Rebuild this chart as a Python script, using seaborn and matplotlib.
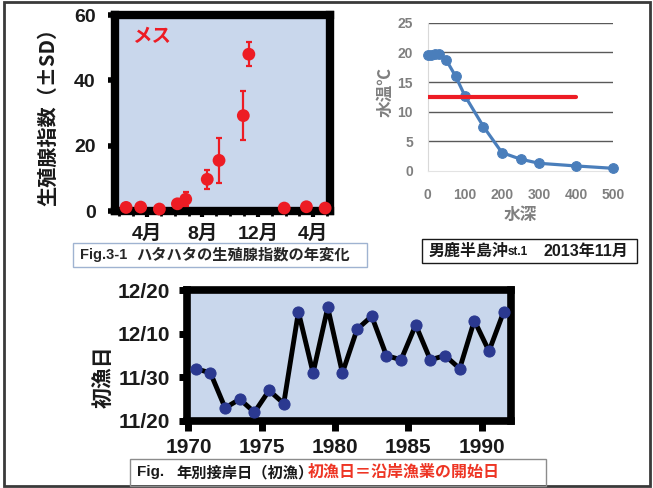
import numpy as np
import matplotlib
matplotlib.use("Agg")
import matplotlib.pyplot as plt
from matplotlib.patches import Rectangle
import seaborn as sns

# Fig.3-1 female GSI by month (months 13-17 = following year)
gsi_month = [2.5, 3.55, 4.9, 6.2, 6.8, 8.35, 9.2, 10.95, 11.35, 13.9, 15.5, 16.85]
gsi_mean = [1.1, 1.2, 0.6, 2.2, 3.6, 9.7, 15.5, 29.2, 48.0, 0.9, 1.3, 0.9]
gsi_sd = [0, 0, 0, 0.5, 2.2, 3.0, 7.0, 7.4, 3.6, 0, 0, 0]
gsi_ticks = [4, 8, 12, 16]
gsi_ticklabels = ["4月", "8月", "12月", "4月"]

# water temperature profile, Oga peninsula st.1, Nov 2013
depth = [0, 10, 20, 30, 50, 75, 100, 150, 200, 250, 300, 400, 500]
temp = [19.6, 19.6, 19.7, 19.8, 18.7, 16.0, 12.7, 7.5, 3.1, 2.0, 1.3, 0.85, 0.45]
ref_depth = [0, 400]
ref_temp = 12.5

# first fishing day by year
years = list(range(1970, 1992))
first_day = ["12/2", "12/1", "11/23", "11/25", "11/22", "11/27", "11/24", "12/15",
             "12/1", "12/16", "12/1", "12/11", "12/14", "12/5", "12/4", "12/12",
             "12/4", "12/5", "12/2", "12/13", "12/6", "12/15"]
day_ticklabels = ["11/20", "11/30", "12/10", "12/20"]


# days counted from 11/20
def to_days(s):
    m, d = map(int, s.split("/"))
    return d - 20 if m == 11 else d + 10


first_days = [to_days(s) for s in first_day]
day_ticks = [to_days(s) for s in day_ticklabels]

sns.set_style("white")
plt.rcParams["font.family"] = ["Liberation Sans", "Noto Sans CJK JP", "DejaVu Sans"]
plt.rcParams["font.weight"] = "bold"
cjk = ["Noto Sans CJK JP", "DejaVu Sans"]

W, H = 653, 488
red = "#ed1c24"
blue = "#4a7ebb"
navy = "#2b3990"
bg = "#c9d7ec"
gray = "#7f7f7f"

fig = plt.figure(figsize=(W / 100, H / 100), dpi=100)


def fx(x):
    return x / W


def fy(y):
    return 1 - y / H


def axes_px(x0, y0, x1, y1):
    return fig.add_axes([fx(x0), fy(y1), (x1 - x0) / W, (y1 - y0) / H])


def box_px(x0, y0, x1, y1, color, lw=1.0):
    fig.add_artist(Rectangle((fx(x0), fy(y1)), (x1 - x0) / W, (y1 - y0) / H,
                             transform=fig.transFigure, fill=False,
                             edgecolor=color, lw=lw))


# outer frame
box_px(4, 2, 650, 486, "#3a3a3a", lw=2)

# ---- GSI panel ----
ax1 = axes_px(115, 15, 330, 211)
ax1.set_facecolor(bg)
ax1.errorbar(gsi_month, gsi_mean, yerr=gsi_sd, fmt="none", ecolor=red,
             elinewidth=1.6, capsize=2.5, capthick=1.6, zorder=3)
sns.scatterplot(x=gsi_month, y=gsi_mean, ax=ax1, color=red, s=85,
                edgecolor="none", zorder=4, clip_on=False)
ax1.set_xlim(1.7, 17.2)
ax1.set_ylim(0, 60)
ax1.set_yticks([0, 20, 40, 60])
ax1.set_xticks(gsi_ticks)
ax1.set_xticklabels(gsi_ticklabels)
ax1.set_xticks(range(2, 18), minor=True)
for s in ax1.spines.values():
    s.set_linewidth(6)
    s.set_color("black")
ax1.tick_params(axis="y", left=True, length=5, width=4, pad=9,
                labelsize=14, color="black", labelcolor="#1a1a1a")
ax1.tick_params(axis="x", bottom=True, length=4, width=3, pad=6,
                labelsize=14, color="black", labelcolor="#1a1a1a")
ax1.tick_params(axis="x", which="minor", bottom=True, length=3.6, width=2,
                color="black")
ax1.text(0.08, 0.89, "メス", transform=ax1.transAxes, color=red,
         fontsize=14, fontweight="bold", va="center", family=cjk)
fig.text(fx(48), fy(112), "生殖腺指数（±SD）", rotation=90, ha="center",
         va="center", fontsize=14.5, fontweight="bold", family=cjk,
         color="#1a1a1a")

box_px(73, 243, 367, 267, "#9fb3d1")
fig.text(fx(80), fy(255), "Fig.3-1", fontsize=10.5, fontweight="bold",
         va="center", color="#262626")
fig.text(fx(136), fy(255), "ハタハタの生殖腺指数の年変化", fontsize=11,
         fontweight="bold", va="center", color="#262626", family=cjk)

# ---- temperature panel ----
ax2 = axes_px(427.7, 22.7, 613.3, 171)
sns.lineplot(x=depth, y=temp, ax=ax2, color=blue, lw=2.3, marker="o",
             markersize=7, markeredgecolor=blue, clip_on=False, zorder=3)
sns.lineplot(x=ref_depth, y=[ref_temp] * len(ref_depth), ax=ax2, color=red,
             lw=3, zorder=4)
ax2.set_xlim(0, 500)
ax2.set_ylim(0, 25)
ax2.set_xticks(range(0, 501, 100))
ax2.set_yticks(range(0, 26, 5))
ax2.grid(axis="y", color="#595959", lw=1)
ax2.yaxis.get_gridlines()[0].set_visible(False)
for k in ["top", "right"]:
    ax2.spines[k].set_visible(False)
ax2.spines["left"].set_color("#d9d9d9")
ax2.spines["bottom"].set_color("#e3e3e3")
ax2.tick_params(axis="both", length=0, labelsize=10, labelcolor=gray)
ax2.tick_params(axis="y", pad=10.5)
ax2.tick_params(axis="x", pad=12)
fig.text(fx(385), fy(92), "水温℃", rotation=90, ha="center", va="center",
         fontsize=12, fontweight="bold", color=gray, family=cjk)
fig.text(fx(520), fy(215), "水深", ha="center", va="center",
         fontsize=12, fontweight="bold", color=gray, family=cjk)

box_px(421.7, 239, 636.7, 263, "#1a1a1a")
fig.text(fx(429), fy(251), "男鹿半島沖", fontsize=11.5, fontweight="bold",
         va="center", color="#1a1a1a", family=cjk)
fig.text(fx(508), fy(252), "st.1", fontsize=8.5, fontweight="bold",
         va="center", color="#1a1a1a")
fig.text(fx(544), fy(251), "2013年11月", fontsize=11.5, fontweight="bold",
         va="center", color="#1a1a1a")

# ---- first fishing day panel ----
ax3 = axes_px(187, 290, 511, 421)
ax3.set_facecolor(bg)
year_pos = np.array(years) + 0.5
sns.lineplot(x=year_pos, y=first_days, ax=ax3, color="black", lw=3.5,
             marker="o", markersize=8, markerfacecolor=navy,
             markeredgecolor=navy, clip_on=False, zorder=3)
ax3.set_xlim(1969.9, 1992)
ax3.set_ylim(0, 30)
ax3.set_xticks(range(1970, 1991, 5))
ax3.set_yticks(day_ticks)
ax3.set_yticklabels(day_ticklabels)
for s in ax3.spines.values():
    s.set_linewidth(5.5)
    s.set_color("black")
ax3.tick_params(axis="y", left=True, length=5.5, width=5, pad=6.5,
                labelsize=15, color="black", labelcolor="#1a1a1a")
ax3.tick_params(axis="x", bottom=True, length=7, width=5, pad=5,
                labelsize=15, color="black", labelcolor="#1a1a1a")
fig.text(fx(104), fy(377), "初漁日", rotation=90, ha="center", va="center",
         fontsize=15, fontweight="bold", family=cjk, color="#1a1a1a")

box_px(130, 459, 546, 486, "#8c8c8c")
fig.text(fx(137), fy(472), "Fig.", fontsize=11, fontweight="bold",
         va="center", color="#1a1a1a")
fig.text(fx(176), fy(472), "年別接岸日（初漁）", fontsize=11,
         fontweight="bold", va="center", color="#1a1a1a", family=cjk)
fig.text(fx(308), fy(472), "初漁日＝沿岸漁業の開始日", fontsize=11.5,
         fontweight="bold", va="center", color="#ee3524", family=cjk)

fig.savefig("out.png", dpi=100)
